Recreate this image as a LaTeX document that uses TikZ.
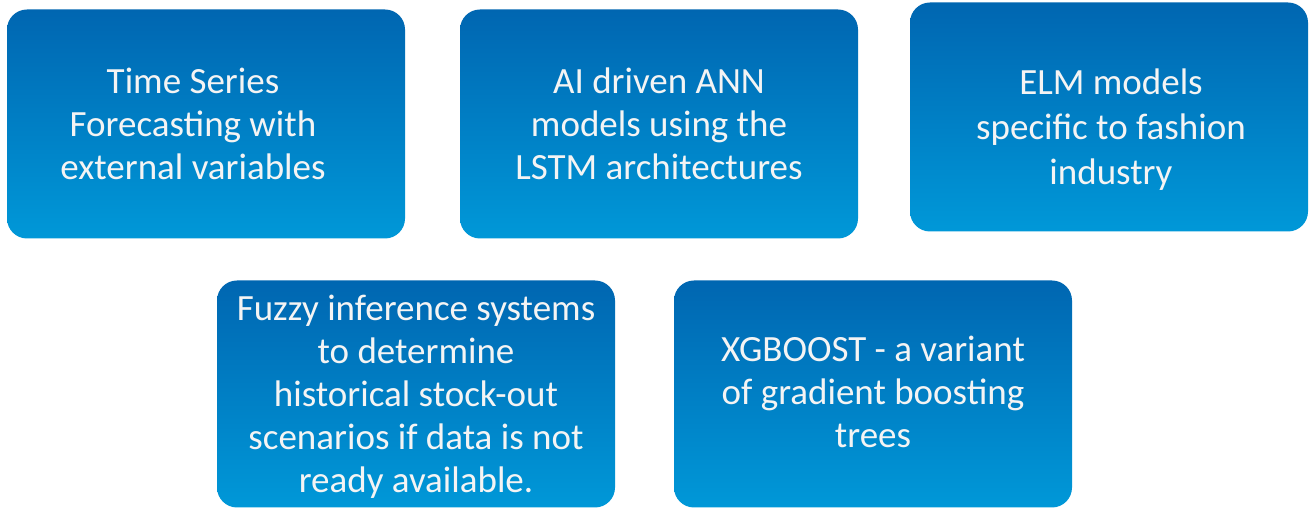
\documentclass[tikz,border=0pt]{standalone}
\usepackage{fontspec}
\setmainfont{Carlito}
\usepackage{tikz}

\definecolor{paneltop}{HTML}{0066B1}
\definecolor{panelbottom}{HTML}{0098D8}
\definecolor{paneltxt}{HTML}{F4F4F4}

\tikzset{
    panel/.style={rounded corners=20pt, top color=paneltop, bottom color=panelbottom,
        minimum width=398pt, minimum height=229pt, inner sep=0pt},
    paneltext/.style={text=paneltxt, align=center, font=\fontsize{37}{43}\selectfont}
}

\begin{document}
\begin{tikzpicture}[x=1pt,y=1pt]
    \useasboundingbox (0,0) rectangle (1310,508);
    % top row
    \node[panel] (ts) at (206,384) {};
    \node[panel] (ann) at (659,384) {};
    \node[panel] (elm) at (1109,391) {};
    % bottom row
    \node[panel, minimum height=227pt] (fis) at (416,114) {};
    \node[panel, minimum height=227pt] (xgb) at (873,114) {};
    % texts
    \node[paneltext] (tstext) at ([xshift=-13pt]ts.center) {Time Series\\Forecasting with\\external variables};
    \node[paneltext] (anntext) at (ann.center) {AI driven ANN\\models using the\\LSTM architectures};
    \node[paneltext] (elmtext) at ([xshift=2pt,yshift=-13pt]elm.center) {ELM models\\[2pt]specific to fashion\\[2pt]industry};
    \node[paneltext] (fistext) at ([yshift=-3pt]fis.center) {Fuzzy inference systems\\to determine\\historical stock-out\\scenarios if data is not\\ready available.};
    \node[paneltext] (xgbtext) at ([yshift=2pt]xgb.center) {XGBOOST - a variant\\of gradient boosting\\trees};
\end{tikzpicture}
\end{document}
